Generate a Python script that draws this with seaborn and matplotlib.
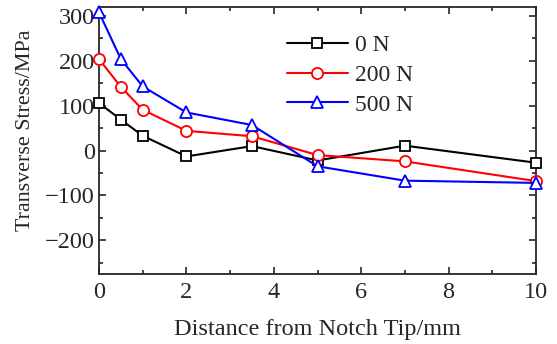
import matplotlib
matplotlib.use("Agg")
import matplotlib.pyplot as plt
import seaborn as sns
import pandas as pd
from matplotlib.ticker import MultipleLocator

distance = [0, 0.5, 1, 2, 3.5, 5, 7, 10]
stress_0N = [106, 69, 33, -13, 10, -22, 11, -27]
stress_200N = [204, 142, 91, 44, 32, -10, -24, -68]
stress_500N = [308, 204, 143, 85, 57, -35, -67, -72]
labels = ["0 N", "200 N", "500 N"]

rows = []
for lab, vals in zip(labels, [stress_0N, stress_200N, stress_500N]):
    for d, v in zip(distance, vals):
        rows.append({"Distance": d, "Stress": v, "Load": lab})
df = pd.DataFrame(rows)

sns.set_style("ticks")
plt.rcParams["font.family"] = ["Liberation Serif", "DejaVu Serif"]

fig = plt.figure(figsize=(5.57, 3.44), dpi=100)
ax = fig.add_axes([99/557, 1 - 274/344, (536-99)/557, (274-7)/344])

colors = {"0 N": "black", "200 N": "red", "500 N": "blue"}
markers = {"0 N": "s", "200 N": "o", "500 N": "^"}
for lab in labels:
    sub = df[df["Load"] == lab]
    sns.lineplot(data=sub, x="Distance", y="Stress", ax=ax, color=colors[lab],
                 marker=markers[lab], markersize=8 if lab != "0 N" else 7,
                 markerfacecolor="white", markeredgecolor=colors[lab],
                 markeredgewidth=1.3, linewidth=1.5, label=lab, clip_on=False, zorder=3)

FS = 17.5
ax.set_xlim(0, 10)
ax.set_ylim(-275, 320)
ax.xaxis.set_major_locator(MultipleLocator(2))
ax.xaxis.set_minor_locator(MultipleLocator(1))
ax.yaxis.set_major_locator(MultipleLocator(100))
ax.yaxis.set_minor_locator(MultipleLocator(50))
ax.tick_params(which="both", direction="in", top=True, right=True, labelsize=FS, width=1.2)
ax.tick_params(which="major", length=5)
ax.tick_params(which="minor", length=3)
ax.tick_params(axis="x", which="both", pad=6)
ax.tick_params(axis="y", which="both", pad=3)
ax.tick_params(top=True, right=True, labeltop=False, labelright=False)
for s in ax.spines.values():
    s.set_linewidth(1.3)
    s.set_visible(True)
ax.set_yticks([-200, -100, 0, 100, 200, 300])
ax.set_yticklabels(["\u2212200", "\u2212100", "0", "100", "200", "300"])
ax.set_xlabel("Distance from Notch Tip/mm", fontsize=FS, labelpad=11)
ax.set_ylabel("Transverse Stress/MPa", fontsize=15.8)
ax.yaxis.set_label_coords(-0.146, 0.54)

leg = ax.legend(loc="upper left", bbox_to_anchor=(0.397, 0.95), frameon=False,
                fontsize=17, handlelength=2.6, handletextpad=0.3, labelspacing=0.35,
                borderaxespad=0.2)

fig.savefig("out.png", dpi=100)
